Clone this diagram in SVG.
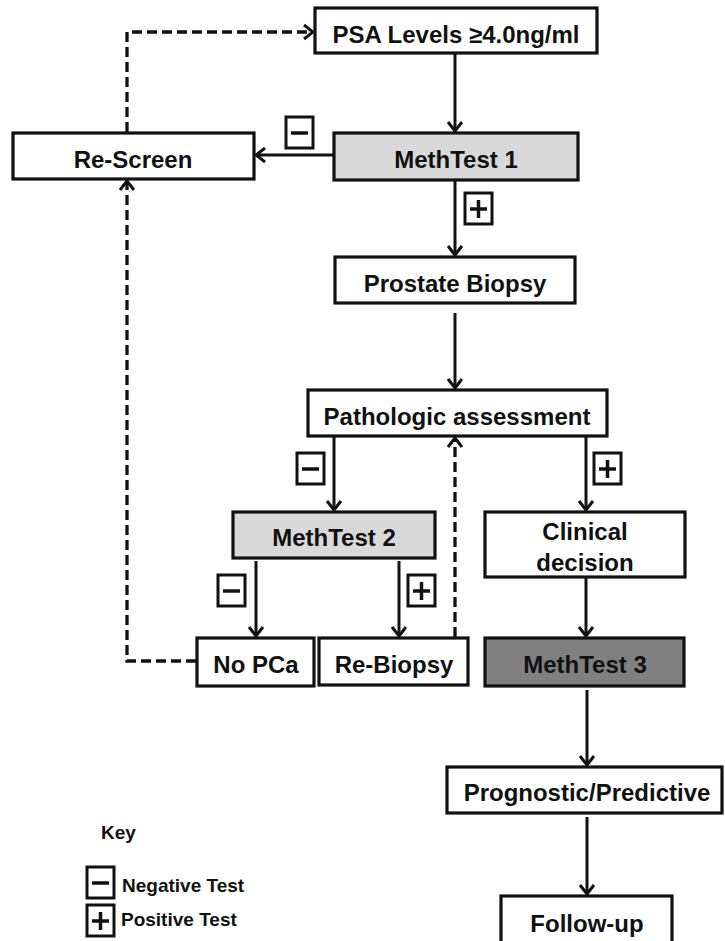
<svg xmlns="http://www.w3.org/2000/svg" width="725" height="941" viewBox="0 0 725 941">
  <style>
    .box { fill: #ffffff; stroke: #111111; stroke-width: 3.2; }
    .light { fill: #d9d9d9; }
    .dark { fill: #808080; }
    .lbl { font-family: "Liberation Sans", Arial, sans-serif; font-weight: bold; font-size: 24px; fill: #111111; text-anchor: middle; }
    .key { font-family: "Liberation Sans", Arial, sans-serif; font-weight: bold; font-size: 19px; fill: #111111; }
    .edge { fill: none; stroke: #111111; stroke-width: 3; }
    .dash { stroke-width: 3.3; stroke-dasharray: 10 5; }
    .sign { fill: #ffffff; stroke: #111111; stroke-width: 3; }
    .bar { stroke: #111111; stroke-width: 3.5; fill: none; }
  </style>
  <defs>
    <marker id="head" viewBox="-12 -9 14 18" refX="0" refY="0" markerWidth="14" markerHeight="18" markerUnits="userSpaceOnUse" orient="auto">
      <path d="M-9,-7 L0,0 L-9,7" fill="none" stroke="#111111" stroke-width="3"/>
    </marker>
    <!-- result badges -->
    <g id="neg">
      <rect class="sign" x="0" y="0" width="27" height="31"/>
      <line class="bar" x1="5" y1="16" x2="22" y2="16"/>
    </g>
    <g id="pos">
      <rect class="sign" x="0" y="0" width="27" height="31"/>
      <line class="bar" x1="5" y1="16" x2="22" y2="16"/>
      <line class="bar" x1="13.5" y1="7" x2="13.5" y2="25"/>
    </g>
  </defs>

  <g id="connectors">
    <line class="edge" x1="455" y1="54" x2="455" y2="131" marker-end="url(#head)"/>
    <line class="edge" x1="333" y1="155" x2="256" y2="155" marker-end="url(#head)"/>
    <line class="edge" x1="455" y1="181" x2="455" y2="255" marker-end="url(#head)"/>
    <line class="edge" x1="455" y1="313" x2="455" y2="388" marker-end="url(#head)"/>
    <line class="edge" x1="334" y1="437" x2="334" y2="510" marker-end="url(#head)"/>
    <line class="edge" x1="586" y1="437" x2="586" y2="510" marker-end="url(#head)"/>
    <line class="edge" x1="256" y1="561" x2="256" y2="636" marker-end="url(#head)"/>
    <line class="edge" x1="399" y1="561" x2="399" y2="636" marker-end="url(#head)"/>
    <line class="edge" x1="586" y1="578" x2="586" y2="636" marker-end="url(#head)"/>
    <line class="edge" x1="587" y1="690" x2="587" y2="765" marker-end="url(#head)"/>
    <line class="edge" x1="587" y1="817" x2="587" y2="894" marker-end="url(#head)"/>
    <!-- dashed feedback loops -->
    <line class="edge dash" x1="455" y1="637" x2="455" y2="438" marker-end="url(#head)"/>
    <polyline class="edge dash" points="196,661 127,661 127,181" marker-end="url(#head)"/>
    <polyline class="edge dash" points="127,132 127,32 313,32" marker-end="url(#head)"/>
  </g>

  <g id="psa">
    <rect class="box" x="315" y="8" width="282" height="45"/>
    <text class="lbl" x="456" y="43">PSA Levels ≥4.0ng/ml</text>
  </g>
  <g id="methtest1">
    <rect class="box light" x="334" y="133" width="244" height="47"/>
    <text class="lbl" x="456" y="168">MethTest 1</text>
  </g>
  <g id="rescreen">
    <rect class="box" x="13" y="133" width="241" height="46"/>
    <text class="lbl" x="133" y="168">Re-Screen</text>
  </g>
  <g id="biopsy">
    <rect class="box" x="335" y="257" width="240" height="46"/>
    <text class="lbl" x="455" y="292">Prostate Biopsy</text>
  </g>
  <g id="pathologic">
    <rect class="box" x="308" y="390" width="299" height="46"/>
    <text class="lbl" x="457" y="425">Pathologic assessment</text>
  </g>
  <g id="methtest2">
    <rect class="box light" x="233" y="512" width="202" height="46"/>
    <text class="lbl" x="334" y="546">MethTest 2</text>
  </g>
  <g id="clinical">
    <rect class="box" x="485" y="512" width="200" height="65"/>
    <text class="lbl" x="585" y="540">Clinical</text>
    <text class="lbl" x="585" y="571">decision</text>
  </g>
  <g id="nopca">
    <rect class="box" x="197" y="638" width="117" height="48"/>
    <text class="lbl" x="256" y="673">No PCa</text>
  </g>
  <g id="rebiopsy">
    <rect class="box" x="319" y="638" width="149" height="47"/>
    <text class="lbl" x="394" y="673">Re-Biopsy</text>
  </g>
  <g id="methtest3">
    <rect class="box dark" x="485" y="638" width="199" height="48"/>
    <text class="lbl" x="585" y="673">MethTest 3</text>
  </g>
  <g id="prognostic">
    <rect class="box" x="447" y="767" width="275" height="46"/>
    <text class="lbl" x="587" y="801">Prognostic/Predictive</text>
  </g>
  <g id="followup">
    <rect class="box" x="501" y="896" width="171" height="52"/>
    <text class="lbl" x="587" y="932">Follow-up</text>
  </g>

  <g id="badges">
    <use href="#neg" x="286" y="117"/>
    <use href="#pos" x="465" y="193"/>
    <use href="#neg" x="297" y="453"/>
    <use href="#pos" x="594" y="453"/>
    <use href="#neg" x="218" y="575"/>
    <use href="#pos" x="408" y="575"/>
  </g>

  <g id="legend">
    <text class="key" x="101" y="839">Key</text>
    <use href="#neg" x="87" y="867"/>
    <text class="key" x="122" y="892">Negative Test</text>
    <use href="#pos" x="87" y="905"/>
    <text class="key" x="121" y="926">Positive Test</text>
  </g>
</svg>
